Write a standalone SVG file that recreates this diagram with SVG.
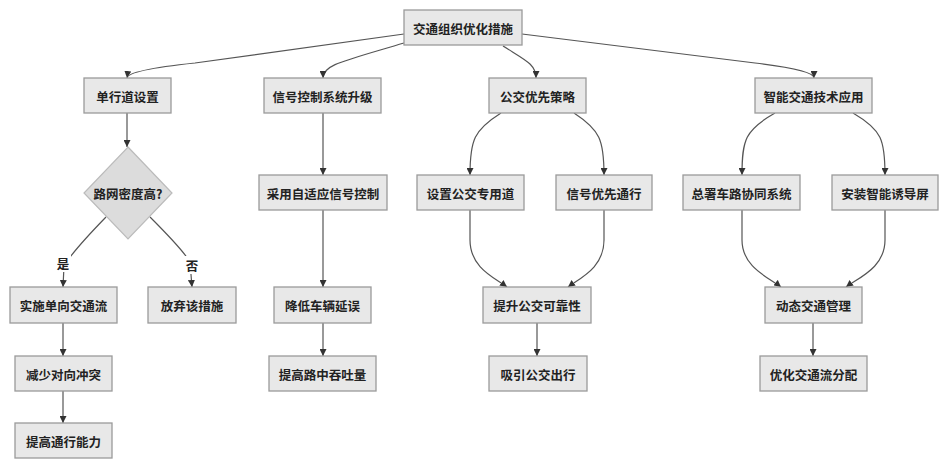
<svg xmlns="http://www.w3.org/2000/svg" width="942" height="459" viewBox="0 0 942 459">
<defs>
<marker id="arr" viewBox="0 0 10 10" refX="10" refY="5" markerWidth="7" markerHeight="7" markerUnits="userSpaceOnUse" orient="auto">
<path d="M0,0 L10,5 L0,10 z" fill="#333"/>
</marker>
<style>
.box{fill:#e8e8e8;stroke:#9a9a9a;stroke-width:1.3}
.t{font-family:"Noto Sans CJK SC","Noto Sans",sans-serif;font-size:12.5px;font-weight:bold;fill:#222;text-anchor:middle;dominant-baseline:central}
.e{fill:none;stroke:#555;stroke-width:1.2;marker-end:url(#arr)}
.lb{fill:#fff}
</style>
</defs>
<rect width="942" height="459" fill="#fff"/>
<g id="connectors">
<path class="e" d="M404,34 L195,63 Q128,70 127,78"/>
<path class="e" d="M404,43 C340,62 323,65 323,78"/>
<path class="e" d="M503,46 C525,60 536,64 536,78"/>
<path class="e" d="M522,34 L755,63 Q814,70 814,78"/>
<path class="e" d="M127,113 L127,147"/>
<path class="e" d="M106,217 Q72,252 64,266 L63,287"/>
<path class="e" d="M150,217 Q183,250 190,262 L192,287"/>
<path class="e" d="M63,323 L63,356"/>
<path class="e" d="M63,391 L63,423"/>
<path class="e" d="M323,113 L323,175"/>
<path class="e" d="M323,210 L323,287"/>
<path class="e" d="M323,323 L323,356"/>
<path class="e" d="M501,113 C474,130 470,140 470,175"/>
<path class="e" d="M574,113 C600,130 604,140 604,175"/>
<path class="e" d="M470,210 L470,240 C470,268 495,278 507,287"/>
<path class="e" d="M604,210 L604,240 C604,268 580,278 568,287"/>
<path class="e" d="M537,323 L537,356"/>
<path class="e" d="M775,113 C745,130 742,140 742,175"/>
<path class="e" d="M853,113 C882,130 885,140 885,175"/>
<path class="e" d="M742,210 L742,240 C742,268 770,278 781,287"/>
<path class="e" d="M885,210 L885,240 C885,268 858,278 846,287"/>
<path class="e" d="M813,323 L813,356"/>
<rect class="lb" x="55" y="254" width="16" height="18"/>
<text class="t" x="63" y="263">是</text>
<rect class="lb" x="184" y="256" width="16" height="18"/>
<text class="t" x="192" y="265">否</text>
</g>
<g id="root"><rect class="box" x="404" y="10" width="118" height="35"/><text class="t" x="463" y="28">交通组织优化措施</text></g>
<g id="n_oneway"><rect class="box" x="84" y="78" width="87" height="35"/><text class="t" x="127.5" y="96">单行道设置</text></g>
<g id="n_signal"><rect class="box" x="264" y="78" width="117" height="35"/><text class="t" x="322.5" y="96">信号控制系统升级</text></g>
<g id="n_bus"><rect class="box" x="489" y="78" width="97" height="35"/><text class="t" x="537.5" y="96">公交优先策略</text></g>
<g id="n_its"><rect class="box" x="755" y="78" width="117" height="35"/><text class="t" x="813.5" y="96">智能交通技术应用</text></g>
<g id="n_decision"><polygon points="128,147 172,193 128,239 84,193" fill="#dcdcdc" stroke="#bbb" stroke-width="1.2"/><text class="t" x="128" y="193">路网密度高?</text></g>
<g id="n_impl"><rect class="box" x="10" y="287" width="107" height="36"/><text class="t" x="63.5" y="305">实施单向交通流</text></g>
<g id="n_abandon"><rect class="box" x="148" y="287" width="88" height="36"/><text class="t" x="192" y="305">放弃该措施</text></g>
<g id="n_reduce"><rect class="box" x="15" y="356" width="97" height="35"/><text class="t" x="63.5" y="374">减少对向冲突</text></g>
<g id="n_cap"><rect class="box" x="15" y="423" width="97" height="35"/><text class="t" x="63.5" y="441">提高通行能力</text></g>
<g id="n_adapt"><rect class="box" x="259" y="175" width="128" height="35"/><text class="t" x="323" y="193">采用自适应信号控制</text></g>
<g id="n_delay"><rect class="box" x="274" y="287" width="97" height="36"/><text class="t" x="322.5" y="305">降低车辆延误</text></g>
<g id="n_thru"><rect class="box" x="269" y="356" width="107" height="35"/><text class="t" x="322.5" y="374">提高路中吞吐量</text></g>
<g id="n_lane"><rect class="box" x="417" y="175" width="107" height="35"/><text class="t" x="470.5" y="193">设置公交专用道</text></g>
<g id="n_prio"><rect class="box" x="556" y="175" width="96" height="35"/><text class="t" x="604" y="193">信号优先通行</text></g>
<g id="n_rel"><rect class="box" x="483" y="287" width="108" height="36"/><text class="t" x="537" y="305">提升公交可靠性</text></g>
<g id="n_attract"><rect class="box" x="489" y="356" width="98" height="35"/><text class="t" x="538" y="374">吸引公交出行</text></g>
<g id="n_v2x"><rect class="box" x="683" y="175" width="117" height="35"/><text class="t" x="741.5" y="193">总署车路协同系统</text></g>
<g id="n_screen"><rect class="box" x="832" y="175" width="106" height="35"/><text class="t" x="885" y="193">安装智能诱导屏</text></g>
<g id="n_dyn"><rect class="box" x="765" y="287" width="97" height="36"/><text class="t" x="813.5" y="305">动态交通管理</text></g>
<g id="n_flow"><rect class="box" x="760" y="356" width="107" height="35"/><text class="t" x="813.5" y="374">优化交通流分配</text></g>
</svg>
